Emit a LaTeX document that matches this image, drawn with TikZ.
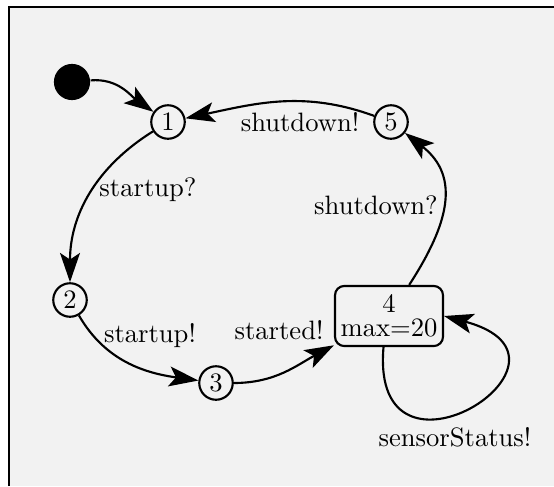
\documentclass[tikz,border=0pt]{standalone}
\usetikzlibrary{arrows.meta}
\definecolor{panel}{HTML}{F2F2F2}
\begin{document}
\begin{tikzpicture}[x=0.376pt,y=0.376pt,
  state/.style={circle,draw,line width=0.8pt,minimum size=12.6pt,inner sep=0pt,font=\normalsize},
  initstate/.style={circle,fill=black,minimum size=13.6pt,inner sep=0pt},
  locbox/.style={draw,line width=0.8pt,rounded corners=3.5pt,minimum width=40.6pt,minimum height=22.6pt,inner sep=1pt,align=center},
  trans/.style={line width=0.8pt,-{Stealth[length=11pt,width=7.5pt,inset=2.5pt]}},
  lbl/.style={inner sep=0pt}]
\useasboundingbox (0,0) rectangle (554,486);
% panel with its left and top edge
\fill[panel] (9,0) rectangle (554,479);
\draw[line width=0.9pt] (9,0) -- (9,479) -- (554,479);

% locations
\node[initstate] (init) at (72,404) {};
\node[state] (n1) at (168,364) {1};
\node[state] (n5) at (391,364) {5};
\node[state] (n2) at (70,186) {2};
\node[state] (n3) at (216,103) {3};
\node[locbox] (n4) at (389,170) {4\\[-3pt]max=20};

% transitions
\draw[trans] (init) to[out=5,in=145] (n1);
\draw[trans] (n5) to[out=160,in=12] (n1);
\draw[trans] (n1) to[out=212,in=90] (n2);
\draw[trans] (n2) to[out=-60,in=172] (n3);
\draw[trans] (n3) to[out=0,in=208] (n4);
\draw[trans] (n4) to[out=57,in=-38,looseness=1.2] (n5);
\draw[trans] (n4.-100) .. controls +(265:160) and +(-15:165) .. (n4.east);

% labels
\node[lbl] (l1) at (148,296) {startup?};
\node[lbl] (l2) at (300,364) {shutdown!};
\node[lbl] (l3) at (376,281) {shutdown?};
\node[lbl] (l4) at (150,150) {startup!};
\node[lbl] (l5) at (279,156) {started!};
\node[lbl] (l6) at (455,49) {sensorStatus!};
\end{tikzpicture}
\end{document}
